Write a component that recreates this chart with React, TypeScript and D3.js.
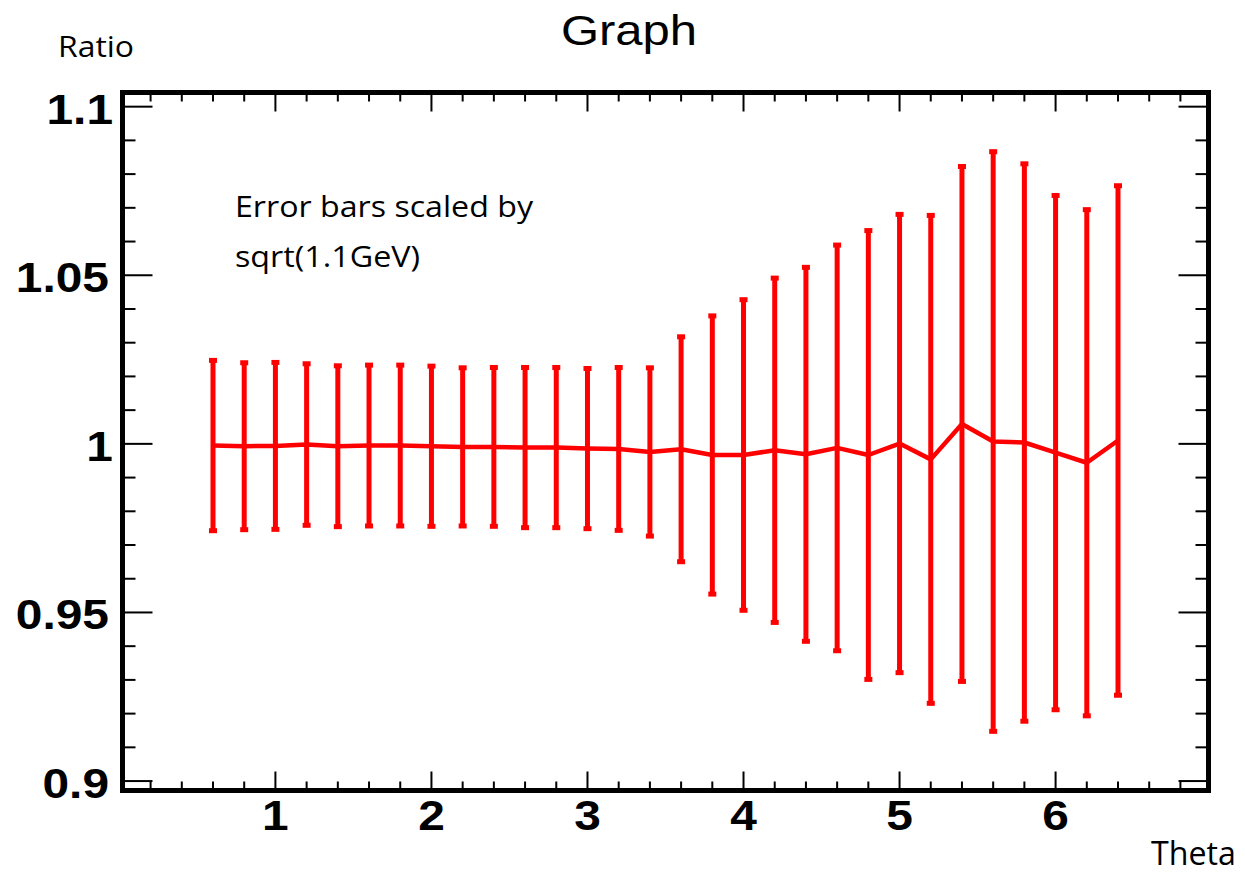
import React from "react";
import * as d3 from "d3";

// ---- data ----
const thetas = [0.6, 0.8, 1.0, 1.2, 1.4, 1.6, 1.8, 2.0, 2.2, 2.4, 2.6, 2.8, 3.0, 3.2, 3.4, 3.6, 3.8, 4.0, 4.2, 4.4, 4.6, 4.8, 5.0, 5.2, 5.4, 5.6, 5.8, 6.0, 6.2, 6.4];
const ratios = [0.9995, 0.9993, 0.9994, 0.9998, 0.9993, 0.9995, 0.9995, 0.9993, 0.9991, 0.9991, 0.9989, 0.9989, 0.9986, 0.9985, 0.9976, 0.9984, 0.9967, 0.9967, 0.9981, 0.9969, 0.9988, 0.9967, 1.0001, 0.9954, 1.0059, 1.0007, 1.0004, 0.9974, 0.9944, 1.0010];
const errors = [0.0254, 0.0249, 0.0249, 0.0241, 0.0240, 0.0240, 0.0240, 0.0239, 0.0236, 0.0237, 0.0239, 0.0239, 0.0239, 0.0243, 0.0251, 0.0335, 0.0414, 0.0462, 0.0512, 0.0556, 0.0603, 0.0667, 0.0681, 0.0725, 0.0765, 0.0861, 0.0828, 0.0764, 0.0752, 0.0757];

const xDomain = [0.02, 6.98];
const yDomain = [0.8972, 1.1042];
const xMajorTicks = [1, 2, 3, 4, 5, 6];
const xTickLabels = ["1", "2", "3", "4", "5", "6"];
const yMajorTicks = [0.9, 0.95, 1.0, 1.05, 1.1];
const yTickLabels = ["0.9", "0.95", "1", "1.05", "1.1"];

const titleText = "Graph";
const xTitle = "Theta";
const yTitle = "Ratio";
const noteLines = ["Error bars scaled by", "sqrt(1.1GeV)"];

// ---- layout ----
const W = 1245;
const H = 873;
const frame = { left: 122.5, top: 92.5, right: 1208.5, bottom: 790.5 };
const RED = "#ff0000";
const SX = 1.14;

function SText(props: { x: number; y: number; anchor?: string; size: number; weight?: string; family: string; sx?: number; children: string }) {
  const { x, y, anchor = "start", size, weight = "normal", family, sx = SX, children } = props;
  return (
    <g transform={`translate(${x},${y}) scale(${sx},1)`}>
      <text x={0} y={0} textAnchor={anchor} fontSize={size} fontWeight={weight} fontFamily={family} fill="#000">
        {children}
      </text>
    </g>
  );
}

export default function App() {
  const x = d3.scaleLinear().domain(xDomain).range([frame.left, frame.right]);
  const y = d3.scaleLinear().domain(yDomain).range([frame.bottom, frame.top]);

  const xMinor = d3.range(2, 69, 2).map((v) => v / 10).filter((v) => !xMajorTicks.includes(v));
  const yMinor = d3.range(90, 111, 1).map((v) => v / 100).filter((v) => !yMajorTicks.some((m) => Math.abs(m - v) < 1e-9));

  const pts = thetas.map((t, i) => ({ t, r: ratios[i], e: errors[i] }));
  const line = d3
    .line<{ t: number; r: number }>()
    .x((d) => x(d.t))
    .y((d) => y(d.r));

  const tickW = 2;
  const yMajLen = 30;
  const yMinLen = 13;
  const xMajLen = 19;
  const xMinLen = 9;
  const labelFont = "'Liberation Sans', Arial, Helvetica, sans-serif";
  const textFont = "'Open Sans', 'Noto Sans', sans-serif";

  return (
    <svg width={W} height={H} style={{ position: "absolute", left: 0, top: 0, display: "block", background: "#fff" }}>
      <rect x={0} y={0} width={W} height={H} fill="#fff" />

      {/* ticks */}
      <g stroke="#000" strokeWidth={tickW}>
        {yMajorTicks.map((v) => (
          <g key={"ym" + v}>
            <line x1={frame.left} x2={frame.left + yMajLen} y1={y(v)} y2={y(v)} />
            <line x1={frame.right} x2={frame.right - yMajLen} y1={y(v)} y2={y(v)} />
          </g>
        ))}
        {yMinor.map((v) => (
          <g key={"yn" + v}>
            <line x1={frame.left} x2={frame.left + yMinLen} y1={y(v)} y2={y(v)} />
            <line x1={frame.right} x2={frame.right - yMinLen} y1={y(v)} y2={y(v)} />
          </g>
        ))}
        {xMajorTicks.map((v) => (
          <g key={"xm" + v}>
            <line x1={x(v)} x2={x(v)} y1={frame.bottom} y2={frame.bottom - xMajLen} />
            <line x1={x(v)} x2={x(v)} y1={frame.top} y2={frame.top + xMajLen} />
          </g>
        ))}
        {xMinor.map((v) => (
          <g key={"xn" + v}>
            <line x1={x(v)} x2={x(v)} y1={frame.bottom} y2={frame.bottom - xMinLen} />
            <line x1={x(v)} x2={x(v)} y1={frame.top} y2={frame.top + xMinLen} />
          </g>
        ))}
      </g>

      {/* error bars */}
      <g>
        {pts.map((d, i) => (
          <g key={"e" + i}>
            <line x1={x(d.t)} x2={x(d.t)} y1={y(d.r - d.e)} y2={y(d.r + d.e)} stroke={RED} strokeWidth={5} />
            <rect x={x(d.t) - 4} y={y(d.r + d.e) - 2} width={8} height={5} fill={RED} />
            <rect x={x(d.t) - 4} y={y(d.r - d.e) - 3} width={8} height={5} fill={RED} />
          </g>
        ))}
      </g>

      {/* connecting line */}
      <path d={line(pts) || ""} fill="none" stroke={RED} strokeWidth={4.5} strokeLinejoin="round" />

      {/* frame */}
      <rect
        x={frame.left}
        y={frame.top}
        width={frame.right - frame.left}
        height={frame.bottom - frame.top}
        fill="none"
        stroke="#000"
        strokeWidth={5}
      />

      {/* tick labels */}
      {yMajorTicks.map((v, i) => (
        <SText key={"yl" + v} x={yTickLabels[i].endsWith("1") ? 113 : 109} y={y(v) + 17} anchor="end" size={42} weight="bold" family={labelFont}>
          {yTickLabels[i]}
        </SText>
      ))}
      {xMajorTicks.map((v, i) => (
        <SText key={"xl" + v} x={x(v)} y={830} anchor="middle" size={42} weight="bold" family={labelFont}>
          {xTickLabels[i]}
        </SText>
      ))}

      {/* titles */}
      <SText x={629} y={45} anchor="middle" size={43} family={labelFont}>
        {titleText}
      </SText>
      <text x={58} y={57} fontSize={29} fontFamily={textFont} textLength={76} lengthAdjust="spacingAndGlyphs">
        {yTitle}
      </text>
      <text x={1151} y={865} fontSize={32} fontFamily={textFont} textLength={85} lengthAdjust="spacingAndGlyphs">
        {xTitle}
      </text>
      <text x={235} y={217} fontSize={29.5} fontFamily={textFont} textLength={298} lengthAdjust="spacingAndGlyphs">
        {noteLines[0]}
      </text>
      <text x={235} y={267} fontSize={29.5} fontFamily={textFont} textLength={185} lengthAdjust="spacingAndGlyphs">
        {noteLines[1]}
      </text>
    </svg>
  );
}
